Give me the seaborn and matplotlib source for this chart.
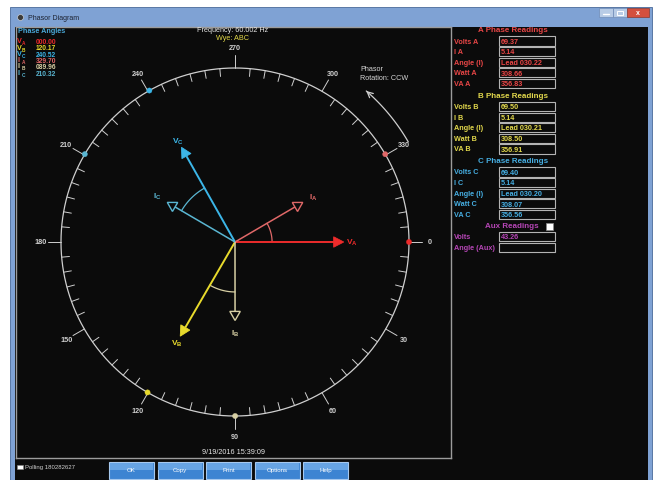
import numpy as np
import matplotlib
matplotlib.use("Agg")
import matplotlib.pyplot as plt
import seaborn as sns
from matplotlib.patches import Rectangle, Polygon

# values
phasors = ["VA", "VB", "VC", "IA", "IB", "IC"]
phasor_angles = [0.00, 120.17, 240.52, 329.70, 89.96, 210.32]
phasor_mags = [69.37, 69.50, 69.40, 5.14, 5.14, 5.14]
angle_text = ["000.00", "120.17", "240.52", "329.70", "089.96", "210.32"]

frequency = "60.002"
wiring = "ABC"
timestamp = "9/19/2016 15:39:09"
polling = "180282627"

phases = ["A", "B", "C"]
volts = ["69.37", "69.50", "69.40"]
amps = ["5.14", "5.14", "5.14"]
pf_angle = ["Lead 030.22", "Lead 030.21", "Lead 030.20"]
watts = ["308.66", "308.50", "308.07"]
va = ["356.83", "356.91", "356.56"]
aux_volts = "43.26"

dial_labels = list(range(0, 360, 30))
buttons = ["OK", "Copy", "Print", "Options", "Help"]

# styling
col = {"VA": "#ee2b2b", "IA": "#e06868", "VB": "#e8da2c", "IB": "#d8d0a4",
       "VC": "#3cb6e8", "IC": "#5ab6d2"}
phase_col = {"A": "#e84646", "B": "#e2d84c", "C": "#46aee2", "Aux": "#b646b6"}
v_full, i_full = 111.0, 11.4
FS = 5.2

sns.set_theme(style="dark")
plt.rcParams["font.family"] = ["Liberation Sans", "DejaVu Sans"]

W, H = 659, 481
fig = plt.figure(figsize=(W / 100, H / 100), dpi=100)
fig.patch.set_facecolor("white")

# window chrome, pixel coordinates
bg = fig.add_axes([0, 0, 1, 1])
bg.set_xlim(0, W)
bg.set_ylim(H, 0)
bg.axis("off")
bg.add_patch(Rectangle((10, 8), 642, 480, fc="#7fa2d4", ec="#4a6a9a", lw=0.6))
grad = np.linspace(0, 1, 20)[:, None] * np.ones((1, 50))
bg.imshow(grad, extent=(11, 651, 28, 9), aspect="auto",
          cmap=matplotlib.colors.LinearSegmentedColormap.from_list("t", ["#c4d8f0", "#8fb0dc"]))
bg.add_patch(Rectangle((15, 28), 633, 460, fc="#0b0b0b", ec="none"))
bg.add_patch(Rectangle((599, 9), 14, 9, fc="#b8cce6", ec="#6f8cb8", lw=0.5))
bg.add_patch(Rectangle((613, 9), 14, 9, fc="#b8cce6", ec="#6f8cb8", lw=0.5))
bg.add_patch(Rectangle((627, 9), 22, 9, fc="#d4503e", ec="#8a3a30", lw=0.5))
bg.plot([603, 609], [15, 15], color="white", lw=1)
bg.add_patch(Rectangle((617, 11.5), 6, 4, fc="none", ec="white", lw=0.7))
bg.text(638, 13.5, "x", color="white", fontsize=5, ha="center", va="center", weight="bold")
bg.scatter([20], [18], s=18, c="#3a3a3a", edgecolors="#dddddd", linewidths=0.4)
bg.set_xlim(0, W)
bg.set_ylim(H, 0)

# phasor diagram
cx, cy, R = 235, 243, 174
x0, x1, y0, y1 = 16, 451, 28, 459
ax = fig.add_axes([x0 / W, 1 - y1 / H, (x1 - x0) / W, (y1 - y0) / H])
ax.set_xlim((x0 - cx) / R, (x1 - cx) / R)
ax.set_ylim((y1 - cy) / R, (y0 - cy) / R)
ax.set_facecolor("#0b0b0b")
ax.grid(False)
ax.set_xticks([])
ax.set_yticks([])
for s in ax.spines.values():
    s.set_visible(True)
    s.set_color("#9c9c9c")
    s.set_linewidth(1.0)

ring = "#cfcfcf"
t = np.linspace(0, 2 * np.pi, 721)
ax.plot(np.cos(t), np.sin(t), color=ring, lw=0.9)
for a in range(0, 360, 5):
    c, s = np.cos(np.radians(a)), np.sin(np.radians(a))
    if a % 30:
        ax.plot([c, 0.955 * c], [s, 0.955 * s], color=ring, lw=0.7)
    else:
        ax.plot([c, 1.075 * c], [s, 1.075 * s], color=ring, lw=0.7)
for a in dial_labels:
    c, s = np.cos(np.radians(a)), np.sin(np.radians(a))
    ax.text(1.12 * c, 1.12 * s, str(a), color=ring, fontsize=5.2,
            ha="center", va="center", weight="bold")

ang = np.radians(phasor_angles)
sns.scatterplot(x=np.cos(ang), y=np.sin(ang), hue=phasors, palette=col, s=14,
                edgecolor=None, legend=False, ax=ax, zorder=6)

# angle arcs between V and I of each phase
for p, r in zip(phases, [0.213, 0.287, 0.356]):
    av = phasor_angles[phasors.index("V" + p)]
    ai = phasor_angles[phasors.index("I" + p)]
    if abs(av - ai) > 180:
        av += 360
    tt = np.radians(np.linspace(min(av, ai), max(av, ai), 40))
    ax.plot(r * np.cos(tt), r * np.sin(tt), color=col["I" + p], lw=0.9)

for name, a_deg, mag in zip(phasors, phasor_angles, phasor_mags):
    is_v = name[0] == "V"
    L = mag / (v_full if is_v else i_full)
    a = np.radians(a_deg)
    u = np.array([np.cos(a), np.sin(a)])
    n = np.array([-u[1], u[0]])
    hl, hw = (0.058, 0.030) if is_v else (0.052, 0.030)
    tip, base = L * u, (L - hl) * u
    ax.plot([0, base[0]], [0, base[1]], color=col[name], lw=1.4 if is_v else 1.1,
            solid_capstyle="butt")
    head = [tip, base + hw * n, base - hw * n]
    if is_v:
        ax.add_patch(Polygon(head, closed=True, fc=col[name], ec=col[name], lw=0.6, zorder=4))
    else:
        ax.add_patch(Polygon(head, closed=True, fc="#0b0b0b", ec=col[name], lw=1.0, zorder=4))
    lp = (L + (0.045 if is_v else 0.07)) * u
    ax.text(lp[0], lp[1], name[0] + r"$_\mathregular{" + name[1] + "}$", color=col[name],
            fontsize=6, ha="center", va="center", weight="bold")

# rotation arrow
tr = np.radians(np.linspace(330, 311, 40))
ax.plot(1.15 * np.cos(tr), 1.15 * np.sin(tr), color=ring, lw=0.9)
ax.annotate("", xy=(1.15 * np.cos(tr[-1]), 1.15 * np.sin(tr[-1])),
            xytext=(1.15 * np.cos(tr[-4]), 1.15 * np.sin(tr[-4])),
            arrowprops=dict(arrowstyle="->", color=ring, lw=0.9, mutation_scale=10))

# overlay for all screen text
ov = fig.add_axes([0, 0, 1, 1])
ov.set_xlim(0, W)
ov.set_ylim(H, 0)
ov.axis("off")
ov.patch.set_alpha(0)

ov.text(28, 18.5, "Phasor Diagram", color="#1c2230", fontsize=5, va="center")
ov.text(18, 31.5, "Phase Angles", color="#4aa8d8", fontsize=FS, weight="bold", va="center")
for k, (name, txt) in enumerate(zip(phasors, angle_text)):
    y = 42.5 + 6.3 * k
    ov.text(17, y - 0.8, name[0], color=col[name], fontsize=5.2, weight="bold", va="center")
    ov.text(21.5, y + 1.2, name[1], color=col[name], fontsize=3.4, weight="bold", va="center")
    ov.text(36, y, txt, color=col[name], fontsize=4.8, weight="bold", va="center")
ov.text(233, 30.5, f"Frequency: {frequency} Hz", color="#e6e6e6", fontsize=FS,
        ha="center", va="center")
ov.text(233, 39, f"Wye: {wiring}", color="#e2d848", fontsize=FS, ha="center", va="center")
ov.text(360, 66, "Phasor\nRotation: CCW", color="#d6d6d6", fontsize=FS, va="top",
        linespacing=1.35)
ov.text(233, 453, timestamp, color="#e6e6e6", fontsize=FS, ha="center", va="center")

# readings panel
rows = [("Volts {}", volts), ("I {}", amps), ("Angle (I)", pf_angle), ("Watt {}", watts), ("VA {}", va)]
for k, p in enumerate(phases):
    hy = 30.5 + 65.5 * k
    ov.text(513, hy, f"{p} Phase Readings", color=phase_col[p], fontsize=FS + 0.6,
            weight="bold", ha="center", va="center")
    for j, (lab, vals) in enumerate(rows):
        y = hy + 11.5 + 10.6 * j
        ov.text(454, y, lab.format(p), color=phase_col[p], fontsize=FS, weight="bold", va="center")
        ov.add_patch(Rectangle((499, y - 4.6), 56, 9.2, fc="#0b0b0b", ec="#b4b4b4", lw=0.8))
        ov.text(501, y + 0.3, vals[k], color=phase_col[p], fontsize=FS, weight="bold", va="center")
hy = 30.5 + 65.5 * 3
ov.text(512, hy, "Aux Readings", color=phase_col["Aux"], fontsize=FS + 0.6, weight="bold",
        ha="center", va="center")
ov.add_patch(Rectangle((546, hy - 3.5), 6.5, 7, fc="white", ec="#888888", lw=0.5))
for j, (lab, val) in enumerate([("Volts", aux_volts), ("Angle (Aux)", "")]):
    y = hy + 10.5 + 10.6 * j
    ov.text(454, y, lab, color=phase_col["Aux"], fontsize=FS, weight="bold", va="center")
    ov.add_patch(Rectangle((499, y - 4.6), 56, 9.2, fc="#0b0b0b", ec="#b4b4b4", lw=0.8))
    ov.text(501, y + 0.3, val, color=phase_col["Aux"], fontsize=FS, weight="bold", va="center")

# bottom bar
ov.add_patch(Rectangle((17, 465.5), 6, 4.5, fc="white", ec="#888888", lw=0.4))
ov.text(25, 468, f"Polling {polling}", color="#cfcfcf", fontsize=4.3, va="center")
for k, b in enumerate(buttons):
    bx = 109 + 48.6 * k
    ov.add_patch(Rectangle((bx, 463), 45, 17, fc="#3d84d2", ec="#a6c8ee", lw=0.8))
    ov.add_patch(Rectangle((bx + 0.8, 463.8), 43.4, 7, fc="#67a4e4", ec="none"))
    ov.text(bx + 22.5, 471, b, color="white", fontsize=4.4, ha="center", va="center")

fig.savefig("out.png", dpi=100, facecolor="white")
